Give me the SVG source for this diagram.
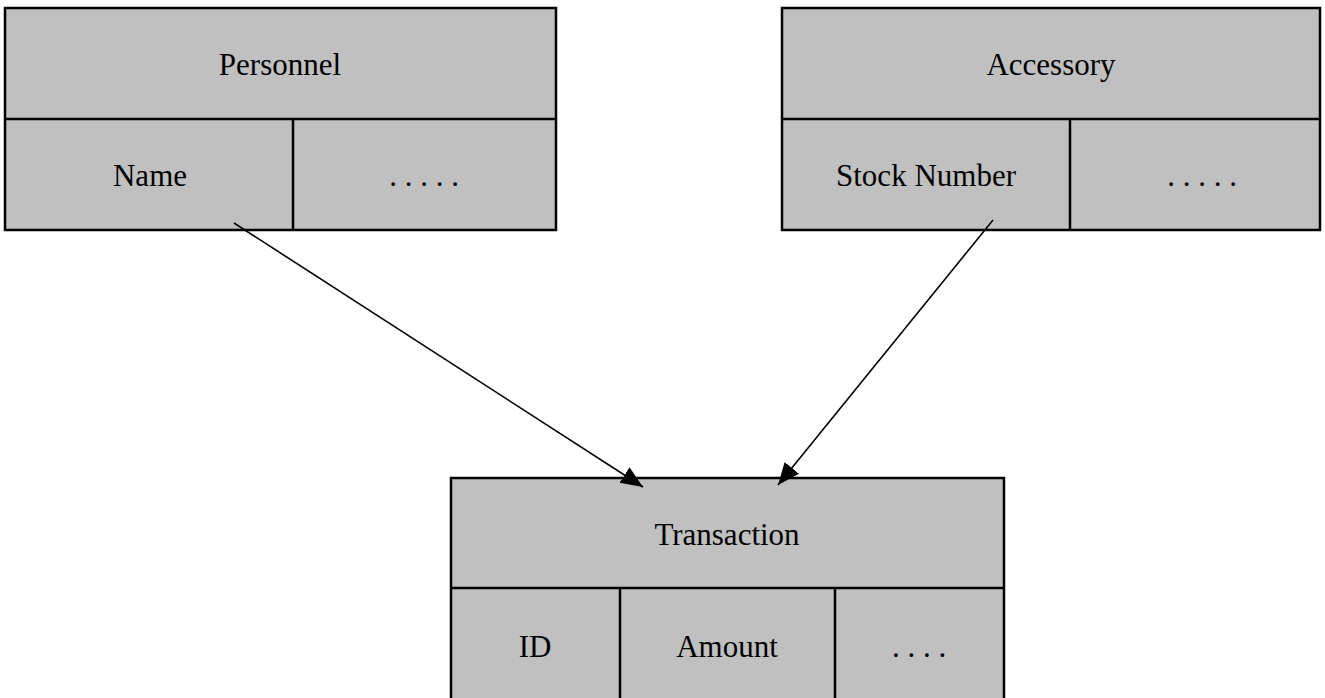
<svg xmlns="http://www.w3.org/2000/svg" width="1325" height="698" viewBox="0 0 1325 698">
<style>
.box{fill:#c0c0c0;stroke:#000;stroke-width:2.5}
.div{stroke:#000;stroke-width:2.5;fill:none}
.t{font-family:"Liberation Serif","Times New Roman",serif;font-size:31px;fill:#000;text-anchor:middle}
.c{stroke:#000;stroke-width:1.6;fill:none}
</style>
<defs>
<marker id="ah" viewBox="0 0 10 10" refX="10" refY="5" markerWidth="22" markerHeight="22" markerUnits="userSpaceOnUse" orient="auto">
<path d="M0,0.8 L10,5 L0,9.2 z" fill="#000"/>
</marker>
</defs>
<rect width="1325" height="698" fill="#fff"/>
<g id="personnel">
<rect class="box" x="5" y="8" width="551" height="222"/>
<line class="div" x1="5" y1="119" x2="556" y2="119"/>
<line class="div" x1="293" y1="119" x2="293" y2="230"/>
<text class="t" x="280" y="75">Personnel</text>
<text class="t" x="150" y="186">Name</text>
<text class="t" x="424" y="186">. . . . .</text>
</g>
<g id="accessory">
<rect class="box" x="782" y="8" width="538" height="222"/>
<line class="div" x1="782" y1="119" x2="1320" y2="119"/>
<line class="div" x1="1070" y1="119" x2="1070" y2="230"/>
<text class="t" x="1051" y="75">Accessory</text>
<text class="t" x="926" y="186">Stock Number</text>
<text class="t" x="1202" y="186">. . . . .</text>
</g>
<g id="transaction">
<rect class="box" x="451" y="478" width="553" height="225"/>
<line class="div" x1="451" y1="588" x2="1004" y2="588"/>
<line class="div" x1="620" y1="588" x2="620" y2="700"/>
<line class="div" x1="835" y1="588" x2="835" y2="700"/>
<text class="t" x="727" y="545">Transaction</text>
<text class="t" x="535" y="657">ID</text>
<text class="t" x="727" y="657">Amount</text>
<text class="t" x="919" y="657">. . . .</text>
</g>
<g id="connectors">
<line class="c" x1="234" y1="223" x2="643" y2="487" marker-end="url(#ah)"/>
<line class="c" x1="993" y1="220" x2="778" y2="485" marker-end="url(#ah)"/>
</g>
</svg>
